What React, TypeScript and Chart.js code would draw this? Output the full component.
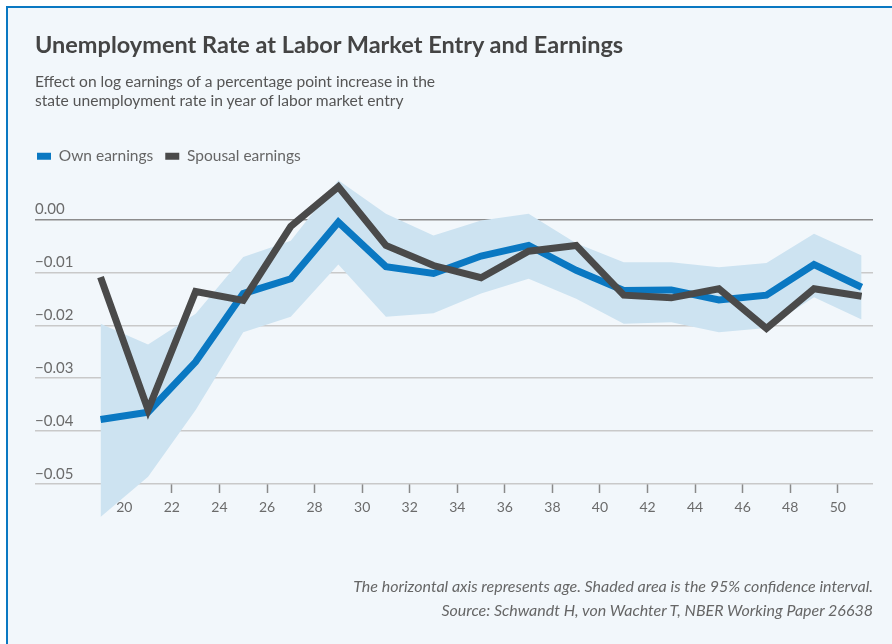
import React, { useEffect, useRef } from "react";
import { Chart, registerables } from "chart.js";

Chart.register(...registerables);

const ages = [19, 21, 23, 25, 27, 29, 31, 33, 35, 37, 39, 41, 43, 45, 47, 49, 51];
const ownEarnings = [-0.0378, -0.0364, -0.0269, -0.014, -0.0112, -0.0005, -0.0089, -0.0102, -0.0069, -0.0049, -0.0096, -0.0134, -0.0133, -0.0152, -0.0143, -0.0085, -0.0128];
const spousalEarnings = [-0.0109, -0.036, -0.0136, -0.0153, -0.0013, 0.0062, -0.0049, -0.0087, -0.011, -0.006, -0.0049, -0.0143, -0.0148, -0.0131, -0.0206, -0.0131, -0.0145];
const ciUpper = [-0.0197, -0.0236, -0.0178, -0.0071, -0.004, 0.0074, 0.0011, -0.003, -0.0002, 0.0011, -0.0045, -0.0081, -0.0081, -0.009, -0.0082, -0.0027, -0.0068];
const ciLower = [-0.0562, -0.0486, -0.036, -0.0213, -0.0184, -0.0085, -0.0184, -0.0177, -0.014, -0.0112, -0.015, -0.0197, -0.0194, -0.0213, -0.0205, -0.0147, -0.0189];
const xTicks = [20, 22, 24, 26, 28, 30, 32, 34, 36, 38, 40, 42, 44, 46, 48, 50];
const yTicks = [-0.05, -0.04, -0.03, -0.02, -0.01, 0];

const BLUE = "#0a78c2";
const DARK = "#4a4a4a";
const SHADE = "#cde3f1";
const FONT = "Lato, 'Open Sans', sans-serif";

const pts = (vals: number[]) => ages.map((a, i) => ({ x: a, y: vals[i] }));

const legendShift = {
  id: "legendShift",
  afterLayout(chart: any) {
    if (chart.legend) chart.legend.left = 25;
  },
};

export default function App() {
  const ref = useRef<HTMLCanvasElement>(null);
  useEffect(() => {
    const chart = new Chart(ref.current as HTMLCanvasElement, {
      type: "line",
      data: {
        datasets: [
          {
            label: "CI lower",
            data: pts(ciLower),
            borderWidth: 0,
            pointRadius: 0,
            fill: false,
            clip: false,
            order: 3,
          } as any,
          {
            label: "CI upper",
            data: pts(ciUpper),
            borderWidth: 0,
            pointRadius: 0,
            backgroundColor: SHADE,
            fill: "-1",
            clip: false,
            order: 2,
          } as any,
          {
            label: "Own earnings",
            data: pts(ownEarnings),
            borderColor: BLUE,
            backgroundColor: BLUE,
            borderWidth: 7,
            borderJoinStyle: "miter",
            pointRadius: 0,
            tension: 0,
            fill: false,
            order: 1,
          } as any,
          {
            label: "Spousal earnings",
            data: pts(spousalEarnings),
            borderColor: DARK,
            backgroundColor: DARK,
            borderWidth: 7,
            borderJoinStyle: "miter",
            pointRadius: 0,
            tension: 0,
            fill: false,
            order: 0,
          } as any,
        ],
      },
      options: {
        animation: false,
        responsive: false,
        layout: { padding: { top: 136.5, left: 35, right: 19, bottom: 117.6 } },
        plugins: {
          tooltip: { enabled: false },
          legend: {
            position: "top",
            align: "start",
            labels: {
              boxWidth: 14,
              boxHeight: 7,
              padding: 12,
              color: "#666",
              font: { family: FONT, size: 15.5 },
              generateLabels: (c: any) =>
                [2, 3].map((i) => {
                  const ds = c.data.datasets[i];
                  return {
                    text: ds.label,
                    fillStyle: ds.borderColor,
                    strokeStyle: ds.borderColor,
                    lineWidth: 0,
                    hidden: false,
                    datasetIndex: i,
                    fontColor: "#666",
                  };
                }),
            },
          },
        },
        scales: {
          x: {
            type: "linear",
            position: { y: -0.05 } as any,
            min: 16.245,
            max: 51.48,
            afterBuildTicks: (s: any) => {
              s.ticks = xTicks.map((v) => ({ value: v }));
            },
            grid: {
              drawOnChartArea: false,
              drawTicks: true,
              tickLength: 9,
              tickColor: "#8a8a8a",
              tickWidth: 1.5,
            },
            border: { display: false },
            ticks: {
              color: "#6b6b6b",
              font: { family: FONT, size: 14 },
              padding: 6,
              maxRotation: 0,
              autoSkip: false,
              callback: (v: any) => String(v),
            },
          },
          y: {
            type: "linear",
            min: -0.058,
            max: 0.0086,
            afterBuildTicks: (s: any) => {
              s.ticks = yTicks.map((v) => ({ value: v }));
            },
            grid: {
              drawTicks: false,
              color: (ctx: any) => (ctx.tick && ctx.tick.value === 0 ? "#8c8c8c" : "#c9c9c9"),
              lineWidth: 1.5,
            },
            border: { display: false },
            ticks: {
              mirror: true,
              padding: 0,
              labelOffset: -10,
              color: "#6b6b6b",
              font: { family: FONT, size: 15 },
              callback: (v: any) => (v === 0 ? "0.00" : (v < 0 ? "\u2212" : "") + Math.abs(v).toFixed(2)),
            },
          },
        },
      },
      plugins: [legendShift],
    });
    return () => chart.destroy();
  }, []);

  return (
    <div style={{ position: "fixed", left: 0, top: 0, width: 892, height: 644, background: "#fff", overflow: "hidden", fontFamily: FONT }}>
      <div
        style={{
          position: "absolute",
          left: 6,
          top: 6,
          width: 900,
          height: 700,
          background: "#f2f7fb",
          borderLeft: "2px solid " + BLUE,
          borderTop: "2px solid " + BLUE,
        }}
      />
      <canvas ref={ref} width={892} height={644} style={{ position: "absolute", left: 0, top: 0, width: 892, height: 644 }} />
      <div style={{ position: "absolute", left: 35, top: 32.7, fontSize: 23.5, lineHeight: "23.5px", fontWeight: 700, color: "#444", whiteSpace: "nowrap" }}>
        Unemployment Rate at Labor Market Entry and Earnings
      </div>
      <div style={{ position: "absolute", left: 35, top: 72, fontSize: 15.6, lineHeight: "19px", color: "#555", whiteSpace: "nowrap" }}>
        Effect on log earnings of a percentage point increase in the
        <br />
        state unemployment rate in year of labor market entry
      </div>
      <div style={{ position: "absolute", right: 19, top: 574, fontSize: 16, lineHeight: "24px", color: "#666", fontStyle: "italic", textAlign: "right", whiteSpace: "nowrap" }}>
        The horizontal axis represents age. Shaded area is the 95% confidence interval.
        <br />
        Source: Schwandt H, von Wachter T, NBER Working Paper 26638
      </div>
    </div>
  );
}
